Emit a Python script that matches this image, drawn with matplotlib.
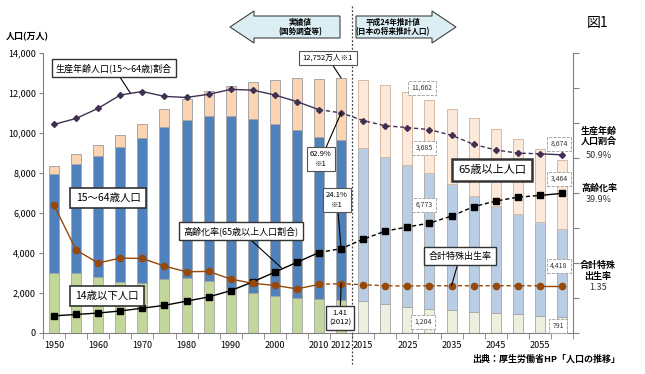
import matplotlib
matplotlib.use('Agg')
import matplotlib.pyplot as plt
from matplotlib.patches import Polygon
from matplotlib.transforms import blended_transform_factory
import numpy as np

plt.rcParams['font.family'] = ['Noto Sans CJK JP', 'DejaVu Sans']

# ---------------- data ----------------
years = ['1950', '1955', '1960', '1965', '1970', '1975', '1980', '1985', '1990',
         '1995', '2000', '2005', '2010', '2012', '2015', '2020', '2025', '2030',
         '2035', '2040', '2045', '2050', '2055', '2060']
pop_0_14 = [2979, 2980, 2807, 2553, 2515, 2722, 2751, 2603, 2249, 2001, 1847, 1752,
            1680, 1655, 1583, 1457, 1324, 1204, 1129, 1073, 1012, 939, 861, 791]
pop_15_64 = [4966, 5473, 6047, 6744, 7212, 7581, 7883, 8251, 8590, 8716, 8622, 8409,
             8103, 8018, 7682, 7341, 7085, 6773, 6343, 5787, 5353, 5001, 4706, 4418]
pop_65 = [411, 475, 535, 624, 739, 887, 1065, 1247, 1489, 1826, 2204, 2567,
          2925, 3079, 3395, 3612, 3657, 3685, 3741, 3868, 3856, 3768, 3626, 3464]
working_ratio = [59.6, 61.3, 64.2, 68.0, 69.0, 67.6, 67.3, 68.2, 69.6, 69.4, 68.0, 66.1,
                 63.8, 62.9, 60.7, 59.2, 58.7, 58.1, 56.5, 53.9, 52.3, 51.4, 51.2, 50.9]
aging_rate = [4.9, 5.3, 5.7, 6.3, 7.1, 7.9, 9.1, 10.3, 12.1, 14.6, 17.4, 20.2,
              23.0, 24.1, 26.8, 29.1, 30.3, 31.4, 33.4, 36.1, 37.7, 38.8, 39.3, 39.9]
fertility = [3.65, 2.37, 2.00, 2.14, 2.13, 1.91, 1.75, 1.76, 1.54, 1.42, 1.36, 1.26,
             1.39, 1.41, 1.38, 1.35, 1.34, 1.35, 1.35, 1.35, 1.35, 1.35, 1.35, 1.35]
n_actual = 14  # 1950..2012 are actual values
label_years = ['1950', '1960', '1970', '1980', '1990', '2000', '2010', '2012',
               '2015', '2025', '2035', '2045', '2055']

W, H = 645, 374


def px(x, y):
    return (x / W, 1 - y / H)


fig = plt.figure(figsize=(W / 100, H / 100), dpi=100)
ax = fig.add_axes([43 / W, 41 / H, 530 / W, 280 / H])
x = np.arange(len(years))
p0 = np.array(pop_0_14)
p1 = np.array(pop_15_64)
p2 = np.array(pop_65)

is_act = x < n_actual
c_green = np.where(is_act, '#c4d79b', '#ebf1de')
c_blue = np.where(is_act, '#4f81bd', '#b9cde5')
c_peach = np.where(is_act, '#fbd4b4', '#fde9d9')
e_peach = np.where(is_act, '#a6a6a6', '#d9b9a0')
bw = 0.45
ax.bar(x, p0, bw, color=c_green, edgecolor='#a6a6a6', linewidth=0.6, zorder=2)
ax.bar(x, p1, bw, bottom=p0, color=c_blue, edgecolor='#a6a6a6', linewidth=0.6, zorder=2)
ax.bar(x, p2, bw, bottom=p0 + p1, color=c_peach, edgecolor=e_peach, linewidth=0.7, zorder=2)

ax.set_xlim(-0.5, len(years) - 0.5)
ax.set_ylim(0, 14000)
ax.set_yticks(np.arange(0, 14001, 2000))
ax.set_yticklabels([f'{v:,}' for v in range(0, 14001, 2000)], fontsize=6.5)
ax.set_xticks([years.index(y) for y in label_years])
ax.set_xticklabels(label_years, fontsize=6.5)
ax.set_xticks(np.arange(-0.5, len(years), 1), minor=True)
ax.tick_params(axis='x', which='major', length=0, pad=6)
ax.tick_params(axis='x', which='minor', length=4, color='#808080')
ax.tick_params(axis='y', length=3, color='#808080', pad=2)
for s in ['top', 'right']:
    ax.spines[s].set_visible(False)
for s in ['left', 'bottom']:
    ax.spines[s].set_color('#808080')

ax2 = ax.twinx()
ax2.set_ylim(0, 80)
ax2.set_yticks(np.arange(0, 81, 10))
ax2.set_yticklabels([])
ax2.tick_params(axis='y', length=4, color='#808080')
for s in ['top', 'left', 'bottom']:
    ax2.spines[s].set_visible(False)
ax2.spines['right'].set_color('#808080')


def draw_series(vals, color, marker, ms):
    v = np.array(vals)
    ax2.plot(x[:13], v[:13], '-', color=color, lw=1.0, zorder=3)
    ax2.plot(x[12:23], v[12:23], '--', color=color, lw=1.0, zorder=3, dashes=(3, 2))
    ax2.plot(x[22:], v[22:], '-', color=color, lw=1.0, zorder=3)
    ax2.plot(x, v, linestyle='none', marker=marker, color=color, ms=ms, zorder=4)


draw_series(working_ratio, '#403152', 'D', 3)
draw_series(aging_rate, 'black', 's', 4.5)
draw_series(np.array(fertility) * 10, '#984807', 'o', 4.5)

# vertical dotted divider between actual and projected
tr = blended_transform_factory(ax.transData, fig.transFigure)
ax.plot([n_actual - 0.5, n_actual - 0.5], [1 - 6 / H, 1 - 366 / H], transform=tr,
        color='#404040', lw=0.9, linestyle=(0, (1.5, 1.5)), clip_on=False, zorder=5)

# arrows at top
left_arrow = [(230, 27), (254, 11), (254, 16), (340, 16), (340, 38), (254, 38), (254, 43)]
right_arrow = [(456, 27), (432, 11), (432, 16), (356, 16), (356, 38), (432, 38), (432, 43)]
for pts in (left_arrow, right_arrow):
    fig.patches.append(Polygon([px(a, b) for a, b in pts], closed=True,
                               transform=fig.transFigure, facecolor='#dbeef4',
                               edgecolor='#404040', linewidth=0.8))
fig.text(*px(300, 22), '実績値', ha='center', va='center', fontsize=5.5, weight='bold')
fig.text(*px(300, 32), '(国勢調査等)', ha='center', va='center', fontsize=5.5, weight='bold')
fig.text(*px(393, 22), '平成24年推計値', ha='center', va='center', fontsize=5.5, weight='bold')
fig.text(*px(393, 32), '(日本の将来推計人口)', ha='center', va='center', fontsize=5.5, weight='bold')

fig.text(*px(598, 23), '図1', ha='center', va='center', fontsize=10)
fig.text(*px(27, 37), '人口(万人)', ha='center', va='center', fontsize=6.5, weight='bold')
fig.text(*px(546, 359), '出典：厚生労働省HP「人口の推移」', ha='center', va='center',
         fontsize=6.5, weight='bold')

# callout boxes
solid_box = dict(boxstyle='square,pad=0.45', fc='white', ec='#333333', lw=1.0)
line_props = dict(arrowstyle='-', color='black', lw=0.8, shrinkA=0, shrinkB=0)


def callout(axis, text, xy, pos, fs=6.5, box=None, line=True):
    kw = dict(xy=xy, xycoords='data', xytext=px(*pos), textcoords='figure fraction',
              ha='center', va='center', fontsize=fs, bbox=box or solid_box, zorder=10)
    if line:
        kw['arrowprops'] = line_props
    t = axis.annotate(text, **kw)
    t.set_zorder(10)
    return t


callout(ax2, '生産年齢人口(15～64歳)割合', (3.45, 68.6), (114, 68), fs=6.5)
callout(ax2, '高齢化率(65歳以上人口割合)', (10.3, 18.6), (241, 231), fs=6.5)
callout(ax2, '合計特殊出生率', (18, 13.5), (460, 256), fs=6.5)
callout(ax, '12,752万人※1', (13, 12752), (328, 58), fs=5.5,
        box=dict(boxstyle='square,pad=0.45', fc='white', ec='#555555', lw=0.8))
callout(ax2, '62.9%\n※1', (13, 62.9), (321, 159), fs=5.5,
        box=dict(boxstyle='square,pad=0.4', fc='white', ec='#555555', lw=0.8))
callout(ax2, '24.1%\n※1', (13, 24.1), (337, 200), fs=5.5,
        box=dict(boxstyle='square,pad=0.4', fc='white', ec='#555555', lw=0.8))
callout(ax2, '1.41\n(2012)', (13, 14.1), (340, 318), fs=5.5,
        box=dict(boxstyle='square,pad=0.4', fc='white', ec='#333333', lw=1.0))

# plain boxes
for text, pos, fs, lw in [('15～64歳人口', (108, 198), 7.5, 1.2),
                          ('14歳以下人口', (107, 296), 7.5, 1.2),
                          ('65歳以上人口', (492, 170), 8, 1.8)]:
    fig.text(*px(*pos), text, ha='center', va='center', fontsize=fs, zorder=10,
             bbox=dict(boxstyle='square,pad=0.5', fc='white', ec='#333333', lw=lw))

# dashed value boxes
dash_box = dict(boxstyle='square,pad=0.5', fc='white', ec='#999999', lw=0.6, linestyle='--')
for text, pos in [('11,662', (422, 88)), ('3,685', (424, 148)), ('6,773', (424, 205)),
                  ('1,204', (423, 322)), ('8,674', (559, 144)), ('3,464', (559, 179)),
                  ('4,418', (559, 266)), ('791', (558, 326))]:
    fig.text(*px(*pos), text, ha='center', va='center', fontsize=5, color='#333333',
             zorder=10, bbox=dash_box)

# right-side labels
fig.text(*px(599, 136), '生産年齢\n人口割合', ha='center', va='center', fontsize=6.5,
         weight='bold', linespacing=1.2)
fig.text(*px(599, 155), '50.9%', ha='center', va='center', fontsize=6.5, color='#333333')
fig.text(*px(599, 188), '高齢化率', ha='center', va='center', fontsize=6.5, weight='bold')
fig.text(*px(599, 199), '39.9%', ha='center', va='center', fontsize=6.5, color='#333333')
fig.text(*px(598, 271), '合計特殊\n出生率', ha='center', va='center', fontsize=6.5,
         weight='bold', linespacing=1.2)
fig.text(*px(598, 288), '1.35', ha='center', va='center', fontsize=6.5, color='#333333')

fig.savefig('out.png', dpi=100)
